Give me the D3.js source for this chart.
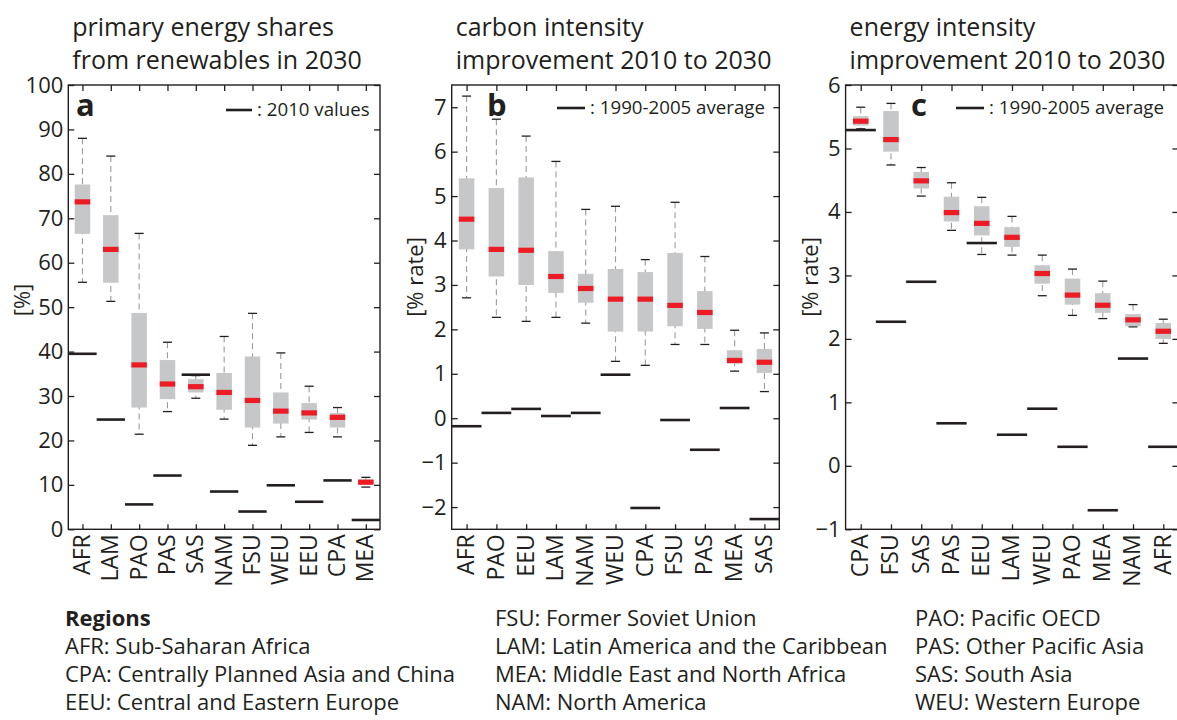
<!DOCTYPE html>
<html><head><meta charset="utf-8">
<script src="https://cdn.jsdelivr.net/npm/d3@7"></script>
<style>
body{margin:0;background:#fff}
text{font-family:"Open Sans",sans-serif;fill:#231f20}
</style>
</head><body>
<svg id="chart" width="1177" height="720"></svg>
<script>
// ---- Panel a: primary energy shares from renewables in 2030 (%)
const catsA = ["AFR","LAM","PAO","PAS","SAS","NAM","FSU","WEU","EEU","CPA","MEA"];
const loA  = [55.6,51.3,21.4,26.5,29.5,24.8,18.9,20.8,21.8,20.8,9.5];
const q1A  = [66.5,55.5,27.4,29.3,30.8,26.9,22.9,23.8,24.7,22.9,10.1];
const medA = [73.7,63.0,37.0,32.7,32.1,30.8,29.0,26.6,26.2,25.2,10.6];
const q3A  = [77.6,70.7,48.7,38.1,33.8,35.2,38.9,30.8,28.4,26.2,11.2];
const hiA  = [88.0,84.0,66.6,42.1,34.6,43.4,48.6,39.7,32.2,27.4,11.7];
const refA = [39.5,24.7,5.6,12.1,34.8,8.5,4.0,9.9,6.2,11.0,2.1];
const ticksA = [0,10,20,30,40,50,60,70,80,90,100];

// ---- Panel b: carbon intensity improvement 2010 to 2030 (% rate)
const catsB = ["AFR","PAO","EEU","LAM","NAM","WEU","CPA","FSU","PAS","MEA","SAS"];
const loB  = [2.71,2.27,2.18,2.27,2.14,1.28,1.19,1.66,1.66,1.06,0.60];
const q1B  = [3.80,3.19,3.00,2.82,2.60,1.95,1.95,2.07,2.01,1.23,1.02];
const medB = [4.48,3.80,3.78,3.19,2.92,2.68,2.68,2.54,2.38,1.30,1.26];
const q3B  = [5.40,5.18,5.42,3.76,3.25,3.36,3.29,3.72,2.86,1.53,1.56];
const hiB  = [7.25,6.73,6.35,5.78,4.70,4.77,3.57,4.86,3.64,1.98,1.92];
const refB = [-0.18,0.12,0.21,0.05,0.12,0.98,-2.02,-0.04,-0.71,0.23,-2.27];
const ticksB = [-2,-1,0,1,2,3,4,5,6,7];

// ---- Panel c: energy intensity improvement 2010 to 2030 (% rate)
const catsC = ["CPA","FSU","SAS","PAS","EEU","LAM","WEU","PAO","MEA","NAM","AFR"];
const loC  = [5.31,4.74,4.25,3.71,3.33,3.32,2.68,2.37,2.32,2.19,1.93];
const q1C  = [5.36,4.95,4.37,3.85,3.63,3.45,2.87,2.54,2.41,2.20,2.00];
const medC = [5.43,5.14,4.49,3.99,3.82,3.60,3.03,2.69,2.53,2.30,2.12];
const q3C  = [5.51,5.59,4.63,4.24,4.09,3.76,3.16,2.95,2.72,2.39,2.25];
const hiC  = [5.65,5.71,4.70,4.46,4.23,3.93,3.32,3.10,2.91,2.54,2.31];
const refC = [5.29,2.27,2.90,0.67,3.51,0.49,0.90,0.30,-0.70,1.69,0.30];
const ticksC = [-1,0,1,2,3,4,5,6];

const regionLegend = [
  ["Regions","AFR: Sub-Saharan Africa","CPA: Centrally Planned Asia and China","EEU: Central and Eastern Europe"],
  ["FSU: Former Soviet Union","LAM: Latin America and the Caribbean","MEA: Middle East and North Africa","NAM: North America"],
  ["PAO: Pacific OECD","PAS: Other Pacific Asia","SAS: South Asia","WEU: Western Europe"]
];

const svg = d3.select("#chart");
const yTop = 85, yBot = 529.3;

const panels = [
  {cats:catsA, lo:loA, q1:q1A, med:medA, q3:q3A, hi:hiA, ref:refA, ticks:ticksA, dom:[0,100],
   x0:68.3, x1:380, title:["primary energy shares","from renewables in 2030"], letter:"a", letterX:76,
   ylab:"[%]", ylabX:30, ylabY:300, leg:": 2010 values", legX0:226, legX1:252, legY:110},
  {cats:catsB, lo:loB, q1:q1B, med:medB, q3:q3B, hi:hiB, ref:refB, ticks:ticksB, dom:[-2.5,7.5],
   x0:451.7, x1:779.3, title:["carbon intensity","improvement 2010 to 2030"], letter:"b", letterX:487,
   ylab:"[% rate]", ylabX:423, ylabY:277, leg:": 1990-2005 average", legX0:557, legX1:585, legY:108},
  {cats:catsC, lo:loC, q1:q1C, med:medC, q3:q3C, hi:hiC, ref:refC, ticks:ticksC, dom:[-1,6],
   x0:845.6, x1:1178.4, title:["energy intensity","improvement 2010 to 2030"], letter:"c", letterX:911,
   ylab:"[% rate]", ylabX:818, ylabY:277, leg:": 1990-2005 average", legX0:956, legX1:984, legY:108}
];

panels.forEach(p => {
  const x = d3.scalePoint().domain(p.cats).range([p.x0, p.x1]).padding(0.5);
  const step = x.step();
  const y = d3.scaleLinear().domain(p.dom).range([yBot, yTop]);
  const g = svg.append("g");
  const bw = 15.5;
  const rows = p.cats.map((c,i)=>({c, lo:p.lo[i], q1:p.q1[i], med:p.med[i], q3:p.q3[i], hi:p.hi[i], ref:p.ref[i]}));

  g.selectAll(".wh").data(rows).join("line")
    .attr("x1", d=>x(d.c)).attr("x2", d=>x(d.c))
    .attr("y1", d=>y(d.hi)).attr("y2", d=>y(d.lo))
    .attr("stroke","#9b9b9b").attr("stroke-width",1.1).attr("stroke-dasharray","6,4");
  ["hi","lo"].forEach(k=>{
    g.selectAll(".cap"+k).data(rows).join("line")
      .attr("x1", d=>x(d.c)-4.5).attr("x2", d=>x(d.c)+4.5)
      .attr("y1", d=>y(d[k])).attr("y2", d=>y(d[k]))
      .attr("stroke","#231f20").attr("stroke-width",1.3);
  });
  g.selectAll(".box").data(rows).join("rect")
    .attr("x", d=>x(d.c)-bw/2).attr("width", bw)
    .attr("y", d=>y(d.q3)).attr("height", d=>y(d.q1)-y(d.q3))
    .attr("fill","#c6c7c9");
  g.selectAll(".med").data(rows).join("rect")
    .attr("x", d=>x(d.c)-bw/2).attr("width", bw)
    .attr("y", d=>y(d.med)-2.6).attr("height", 5.2)
    .attr("fill","#ed1c24");
  g.selectAll(".ref").data(rows).join("line")
    .attr("x1", d=>x(d.c)-step/2).attr("x2", d=>x(d.c)+step/2)
    .attr("y1", d=>y(d.ref)).attr("y2", d=>y(d.ref))
    .attr("stroke","#231f20").attr("stroke-width",2.6);

  g.append("rect").attr("x",p.x0).attr("y",yTop).attr("width",p.x1-p.x0).attr("height",yBot-yTop)
    .attr("fill","none").attr("stroke","#231f20").attr("stroke-width",1.4);

  const ax = (a)=>a.call(s=>s.select(".domain").remove());
  const left = g.append("g").attr("transform",`translate(${p.x0},0)`)
    .call(d3.axisLeft(y).tickValues(p.ticks).tickSize(-6).tickPadding(5).tickFormat(d3.format("d")));
  ax(left);
  left.selectAll("line").attr("stroke","#231f20").attr("stroke-width",1.3);
  left.selectAll("text").style("font-size","22px").attr("fill","#231f20");
  const right = g.append("g").attr("transform",`translate(${p.x1},0)`)
    .call(d3.axisRight(y).tickValues(p.ticks).tickSize(-6));
  ax(right);
  right.selectAll("text").remove();
  right.selectAll("line").attr("stroke","#231f20").attr("stroke-width",1.3);
  const topAx = g.append("g").attr("transform",`translate(0,${yTop})`)
    .call(d3.axisTop(x).tickSize(-6));
  ax(topAx);
  topAx.selectAll("text").remove();
  topAx.selectAll("line").attr("stroke","#231f20").attr("stroke-width",1.3);
  const bot = g.append("g").attr("transform",`translate(0,${yBot})`)
    .call(d3.axisBottom(x).tickSize(-5));
  ax(bot);
  bot.selectAll("line").attr("stroke","#231f20").attr("stroke-width",1.3);
  bot.selectAll("text").style("font-size","23px").attr("fill","#231f20")
    .attr("transform","rotate(-90)").attr("text-anchor","end")
    .attr("x",-5).attr("y",0).attr("dy","0.3em");

  p.title.forEach((t,i)=>{
    svg.append("text").attr("x",p.x0+4).attr("y",36+33*i).text(t).style("font-size","25px");
  });
  svg.append("text").attr("x",p.letterX).attr("y",116).text(p.letter)
    .style("font-size","31px").style("font-weight","bold");
  svg.append("text").attr("transform",`translate(${p.ylabX},${p.ylabY}) rotate(-90)`)
    .attr("text-anchor","middle").text(p.ylab).style("font-size","22px");
  svg.append("line").attr("x1",p.legX0).attr("x2",p.legX1).attr("y1",p.legY).attr("y2",p.legY)
    .attr("stroke","#231f20").attr("stroke-width",2.6);
  svg.append("text").attr("x",p.legX1+5).attr("y",p.legY+6).text(p.leg).style("font-size","18.7px");
});

const colX = [65,495,915];
regionLegend.forEach((col,ci)=>{
  col.forEach((t,ri)=>{
    svg.append("text").attr("x",colX[ci]).attr("y",626+28*ri).text(t)
      .style("font-size","22px").style("font-weight", (ci===0&&ri===0)?"bold":"normal");
  });
});
</script>
</body></html>
